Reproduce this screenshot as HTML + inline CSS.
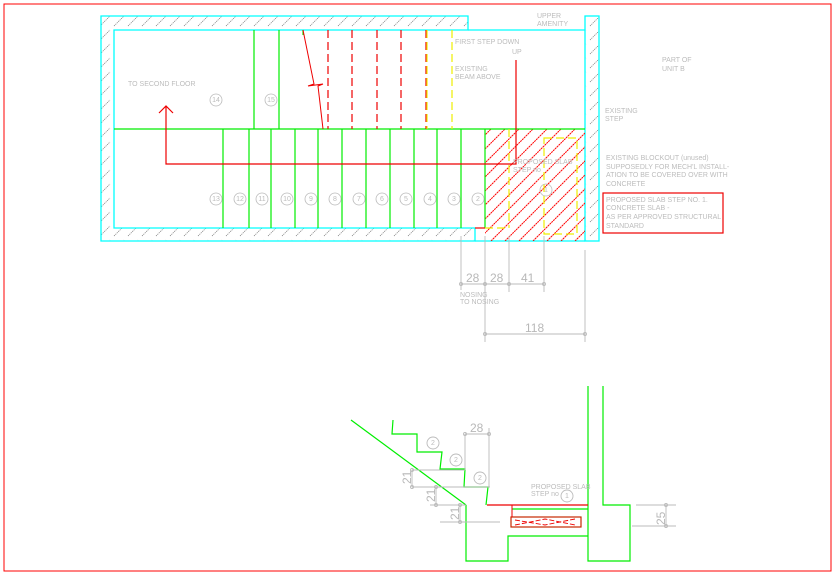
<!DOCTYPE html>
<html><head><meta charset="utf-8"><style>
html,body{margin:0;padding:0;background:#fff;}
svg{display:block;}
text{font-family:"Liberation Sans",sans-serif;fill:#bcbcbc;font-size:7px;}
.n{font-size:6px;text-anchor:middle;}
.d{font-size:12px;fill:#b8b8b8;}
</style></head><body>
<svg width="836" height="576" viewBox="0 0 836 576" xmlns="http://www.w3.org/2000/svg">
<defs>
<pattern id="h" patternUnits="userSpaceOnUse" width="14" height="14">
<line x1="2" y1="12" x2="12" y2="2" stroke="#777" stroke-width="0.7" stroke-dasharray="1.2 0.8"/>
</pattern>
<clipPath id="rc"><rect x="485" y="129" width="100" height="112"/></clipPath>
</defs>
<rect x="4" y="4" width="827" height="567" fill="none" stroke="#f00" stroke-width="1"/>

<path d="M101,16 H468 V30 H114 V228 H475 V241 H101 Z" fill="url(#h)" stroke="#0ff" stroke-width="1.3"/>
<rect x="585" y="16" width="14" height="225" fill="url(#h)" stroke="#0ff" stroke-width="1.3"/>
<line x1="475" y1="241" x2="585" y2="241" stroke="#0ff" stroke-width="1.3"/>
<line x1="468" y1="30" x2="585" y2="30" stroke="#0ff" stroke-width="1.3"/>

<g clip-path="url(#rc)" stroke="#f00" stroke-width="1" stroke-dasharray="2 0.6">
<line x1="379" y1="241" x2="491" y2="129"/><line x1="393" y1="241" x2="505" y2="129"/>
<line x1="407" y1="241" x2="519" y2="129"/><line x1="421" y1="241" x2="533" y2="129"/>
<line x1="435" y1="241" x2="547" y2="129"/><line x1="449" y1="241" x2="561" y2="129"/>
<line x1="463" y1="241" x2="575" y2="129"/><line x1="477" y1="241" x2="589" y2="129"/>
<line x1="491" y1="241" x2="603" y2="129"/><line x1="505" y1="241" x2="617" y2="129"/>
<line x1="519" y1="241" x2="631" y2="129"/><line x1="533" y1="241" x2="645" y2="129"/>
<line x1="547" y1="241" x2="659" y2="129"/><line x1="561" y1="241" x2="673" y2="129"/>
<line x1="575" y1="241" x2="687" y2="129"/>
</g>

<line x1="114" y1="129" x2="585" y2="129" stroke="#0e0" stroke-width="1.2"/>
<g stroke="#0e0" stroke-width="1.2">
<line x1="254" y1="30" x2="254" y2="129"/><line x1="279" y1="30" x2="279" y2="129"/><line x1="303" y1="30" x2="303" y2="35"/>
<line x1="223" y1="129" x2="223" y2="228"/><line x1="249" y1="129" x2="249" y2="228"/><line x1="271" y1="129" x2="271" y2="228"/>
<line x1="295" y1="129" x2="295" y2="228"/><line x1="318" y1="129" x2="318" y2="228"/><line x1="342" y1="129" x2="342" y2="228"/>
<line x1="366" y1="129" x2="366" y2="228"/><line x1="390" y1="129" x2="390" y2="228"/><line x1="414" y1="129" x2="414" y2="228"/>
<line x1="437" y1="129" x2="437" y2="228"/><line x1="461" y1="129" x2="461" y2="228"/><line x1="485" y1="129" x2="485" y2="228"/>
</g>
<g stroke="#e00" stroke-width="1.2" stroke-dasharray="8 4">
<line x1="328" y1="30" x2="328" y2="129"/><line x1="352" y1="30" x2="352" y2="129"/><line x1="377" y1="30" x2="377" y2="129"/>
<line x1="401" y1="30" x2="401" y2="129"/><line x1="426" y1="30" x2="426" y2="129"/>
</g>
<g stroke="#ee0" stroke-width="1.2" stroke-dasharray="8 4" fill="none">
<line x1="427" y1="30" x2="427" y2="129"/><line x1="452" y1="30" x2="452" y2="129"/>
<line x1="509" y1="129" x2="509" y2="228"/>
<rect x="544" y="138" width="33" height="96"/>
<line x1="485" y1="228" x2="509" y2="228"/>
</g>
<path d="M303,30 L314,84 L308,86 L323,84 L318,86 L323,129" fill="none" stroke="#e00" stroke-width="1"/>
<path d="M516,60 V164 H166 V106 M159,113 L166,106 L173,113" fill="none" stroke="#e00" stroke-width="1.2"/>
<path d="M475,228 H485" stroke="#e00" stroke-width="1.2"/>

<g fill="none" stroke="#bbb" stroke-width="0.8">
<circle cx="216" cy="199" r="6"/><circle cx="240" cy="199" r="6"/><circle cx="262" cy="199" r="6"/><circle cx="287" cy="199" r="6"/>
<circle cx="311" cy="199" r="6"/><circle cx="335" cy="199" r="6"/><circle cx="359" cy="199" r="6"/><circle cx="382" cy="199" r="6"/>
<circle cx="406" cy="199" r="6"/><circle cx="430" cy="199" r="6"/><circle cx="454" cy="199" r="6"/><circle cx="478" cy="199" r="6"/>
<circle cx="216" cy="100" r="6"/><circle cx="271" cy="100" r="6"/><circle cx="546" cy="190" r="6"/>
</g>
<g class="n">
<text x="216" y="201">13</text><text x="240" y="201">12</text><text x="262" y="201">11</text><text x="287" y="201">10</text>
<text x="311" y="201">9</text><text x="335" y="201">8</text><text x="359" y="201">7</text><text x="382" y="201">6</text>
<text x="406" y="201">5</text><text x="430" y="201">4</text><text x="454" y="201">3</text><text x="478" y="201">2</text>
<text x="216" y="102">14</text><text x="271" y="102">15</text><text x="546" y="192">1</text>
</g>

<text x="128" y="86">TO SECOND FLOOR</text>
<text x="455" y="44">FIRST STEP DOWN</text>
<text x="512" y="54">UP</text>
<text x="455" y="71">EXISTING</text><text x="455" y="79">BEAM ABOVE</text>
<text x="537" y="18">UPPER</text><text x="537" y="26">AMENITY</text>
<text x="662" y="62">PART OF</text><text x="662" y="71">UNIT B</text>
<text x="605" y="113">EXISTING</text><text x="605" y="121">STEP</text>
<text x="513" y="164">PROPOSED SLAB</text><text x="513" y="172">STEP no</text>
<text x="606" y="160">EXISTING BLOCKOUT (unused)</text>
<text x="606" y="169">SUPPOSEDLY FOR MECH'L INSTALL-</text>
<text x="606" y="177">ATION TO BE COVERED OVER WITH</text>
<text x="606" y="186">CONCRETE</text>
<rect x="603" y="193" width="120" height="40" fill="none" stroke="#e00" stroke-width="1.2"/>
<text x="606" y="202">PROPOSED SLAB STEP NO. 1.</text>
<text x="606" y="210">CONCRETE SLAB -</text>
<text x="606" y="219">AS PER APPROVED STRUCTURAL</text>
<text x="606" y="228">STANDARD</text>

<g stroke="#bbb" stroke-width="0.9" fill="none">
<line x1="461" y1="236" x2="461" y2="290"/><line x1="485" y1="236" x2="485" y2="342"/>
<line x1="509" y1="236" x2="509" y2="292"/><line x1="544" y1="236" x2="544" y2="292"/>
<line x1="585" y1="250" x2="585" y2="342"/>
<line x1="461" y1="284" x2="544" y2="284"/><line x1="485" y1="334" x2="585" y2="334"/>
<circle cx="461" cy="284" r="1.5"/><circle cx="485" cy="284" r="1.5"/><circle cx="509" cy="284" r="1.5"/><circle cx="544" cy="284" r="1.5"/>
<circle cx="485" cy="334" r="1.5"/><circle cx="585" cy="334" r="1.5"/>
</g>
<text class="d" x="466" y="282">28</text><text class="d" x="490" y="282">28</text><text class="d" x="521" y="282">41</text>
<text class="d" x="525" y="332">118</text>
<text x="460" y="297">NOSING</text><text x="460" y="304">TO NOSING</text>

<g fill="none" stroke="#0e0" stroke-width="1.2">
<line x1="351" y1="420" x2="466" y2="505"/>
<path d="M393,420 L392,434 L417,434 L417,452 L442,452 L440,469 L465,469 L464,487 L488,487 L486,505"/>
<path d="M466,505 V561 H508 V536 H588 V386 M603,386 V505 H630 V561 H588 V536"/>
<line x1="512" y1="509" x2="588" y2="509"/>
<rect x="511" y="517" width="70" height="10"/>
</g>
<line x1="487" y1="505" x2="588" y2="505" stroke="#e00" stroke-width="1.2"/>
<path d="M512,505 V517 M511,517 H581 V527 H511 Z" fill="none" stroke="#e00" stroke-width="1"/>
<path d="M515,520 L545,525 L575,519 M515,525 L545,519 L575,525" fill="none" stroke="#e00" stroke-width="0.9" stroke-dasharray="5 2"/>
<g stroke="#bbb" stroke-width="0.9" fill="none">
<line x1="412" y1="470" x2="465" y2="470"/><line x1="412" y1="487" x2="490" y2="487"/><line x1="430" y1="505" x2="466" y2="505"/>
<line x1="440" y1="522" x2="500" y2="522"/>
<line x1="412" y1="470" x2="412" y2="487"/><line x1="436" y1="487" x2="436" y2="505"/><line x1="460" y1="505" x2="460" y2="522"/>
<line x1="465" y1="434" x2="489" y2="434"/><line x1="465" y1="434" x2="465" y2="470"/><line x1="489" y1="428" x2="489" y2="487"/>
<line x1="636" y1="505" x2="676" y2="505"/><line x1="632" y1="526" x2="676" y2="526"/><line x1="666" y1="505" x2="666" y2="526"/>
<circle cx="412" cy="470" r="1.5"/><circle cx="412" cy="487" r="1.5"/><circle cx="436" cy="487" r="1.5"/><circle cx="436" cy="505" r="1.5"/>
<circle cx="460" cy="505" r="1.5"/><circle cx="460" cy="522" r="1.5"/><circle cx="465" cy="434" r="1.5"/><circle cx="489" cy="434" r="1.5"/>
<circle cx="666" cy="505" r="1.5"/><circle cx="666" cy="526" r="1.5"/>
<circle cx="433" cy="443" r="6"/><circle cx="456" cy="460" r="6"/><circle cx="480" cy="478" r="6"/><circle cx="567" cy="496" r="6"/>
</g>
<g class="n"><text x="433" y="445">2</text><text x="456" y="462">2</text><text x="480" y="480">2</text><text x="567" y="498">1</text></g>
<text class="d" x="470" y="432">28</text>
<text class="d" transform="translate(411,484) rotate(-90)">21</text>
<text class="d" transform="translate(435,502) rotate(-90)">21</text>
<text class="d" transform="translate(459,520) rotate(-90)">21</text>
<text class="d" transform="translate(665,525) rotate(-90)">25</text>
<text x="531" y="489">PROPOSED SLAB</text><text x="531" y="496">STEP no</text>
</svg>
</body></html>
